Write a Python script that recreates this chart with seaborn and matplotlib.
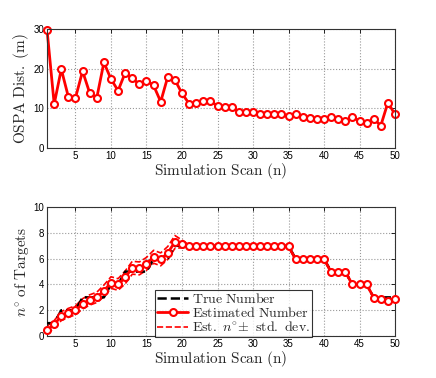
import numpy as np
import pandas as pd
import matplotlib
matplotlib.use("Agg")
import matplotlib.pyplot as plt
import seaborn as sns

scans = list(range(1, 51))
ospa = [29.7, 11.1, 19.9, 12.9, 12.7, 19.4, 13.9, 12.7, 21.6, 17.4,
        14.5, 19.0, 17.6, 16.1, 17.0, 15.8, 11.7, 18.0, 17.2, 13.8,
        11.2, 11.4, 11.9, 11.9, 10.6, 10.4, 10.4, 9.1, 9.1, 9.1,
        8.7, 8.5, 8.5, 8.5, 8.1, 8.5, 7.9, 7.7, 7.3, 7.3,
        7.9, 7.4, 6.8, 7.9, 6.8, 6.4, 7.4, 5.7, 11.5, 8.5]
est_num = [0.47, 0.9, 1.55, 1.8, 2.0, 2.5, 2.8, 3.0, 3.5, 4.15,
           4.0, 4.55, 5.3, 5.25, 5.6, 6.15, 5.95, 6.45, 7.3, 7.15,
           6.95, 6.95, 6.95, 6.95, 6.95, 6.95, 6.95, 6.95, 6.95, 6.95,
           6.95, 6.95, 6.95, 6.95, 6.95, 5.96, 5.96, 5.96, 5.96, 5.96,
           4.97, 4.97, 4.97, 4.0, 4.0, 4.0, 2.98, 2.9, 2.7, 2.9]
true_num = [1, 1, 2, 2, 2, 3, 3, 3, 3, 4,
            4, 5, 5, 5, 5, 6, 6, 6, 7, 7,
            7, 7, 7, 7, 7, 7, 7, 7, 7, 7,
            7, 7, 7, 7, 7, 6, 6, 6, 6, 6,
            5, 5, 5, 4, 4, 4, 3, 3, 3, 3]
std_num = [0.3, 0.3, 0.35, 0.35, 0.35, 0.4, 0.4, 0.4, 0.45, 0.45,
           0.45, 0.5, 0.5, 0.5, 0.5, 0.5, 0.5, 0.5, 0.5, 0.3,
           0.1, 0.05, 0.05, 0.05, 0.05, 0.05, 0.05, 0.05, 0.05, 0.05,
           0.05, 0.05, 0.05, 0.05, 0.05, 0.05, 0.05, 0.05, 0.05, 0.05,
           0.05, 0.05, 0.05, 0.05, 0.05, 0.05, 0.05, 0.05, 0.05, 0.05]
xticks = [5, 10, 15, 20, 25, 30, 35, 40, 45, 50]

sns.set_style("white")
plt.rcParams['font.family'] = ['Liberation Sans', 'DejaVu Sans']
plt.rcParams['mathtext.fontset'] = 'cm'

df = pd.DataFrame({"scan": scans, "ospa": ospa, "est": est_num,
                   "true": true_num,
                   "up": np.array(est_num) + np.array(std_num),
                   "lo": np.array(est_num) - np.array(std_num)})

fig = plt.figure(figsize=(4.36, 3.78), dpi=100)
ax1 = fig.add_axes([0.108, 0.608, 0.798, 0.315])
ax2 = fig.add_axes([0.108, 0.111, 0.798, 0.341])

red = '#ff0000'
mk = dict(marker='o', markersize=5, markeredgewidth=1.5,
          markerfacecolor='white', markeredgecolor=red, clip_on=False)

sns.lineplot(data=df, x="scan", y="ospa", ax=ax1, color=red, linewidth=2, **mk)

sns.lineplot(data=df, x="scan", y="true", ax=ax2, color='black', linewidth=1.8,
             linestyle='--', label=r'$\mathrm{True\ Number}$', zorder=3)
sns.lineplot(data=df, x="scan", y="est", ax=ax2, color=red, linewidth=2,
             label=r'$\mathrm{Estimated\ Number}$', zorder=4, **mk)
sns.lineplot(data=df, x="scan", y="up", ax=ax2, color=red, linewidth=1.2,
             linestyle='--', label=r'$\mathrm{Est.}\ n^{\circ}\!\pm\ \mathrm{std.\ dev.}$', zorder=2)
sns.lineplot(data=df, x="scan", y="lo", ax=ax2, color=red, linewidth=1.2,
             linestyle='--', zorder=2)

for ax in (ax1, ax2):
    ax.set_xlim(1, 50)
    ax.set_xticks(xticks)
    ax.grid(True, linestyle=':', color='#999999', linewidth=0.8)
    ax.tick_params(direction='in', length=3, labelsize=7, width=0.6,
                   top=True, right=True, pad=2, colors='black')
    for s in ax.spines.values():
        s.set_color('#333333')
        s.set_linewidth(0.8)
    ax.set_xlabel(r'$\mathrm{Simulation\ Scan\ (n)}$', fontsize=11, labelpad=0)

ax1.set_ylim(0, 30)
ax1.set_yticks([0, 10, 20, 30])
ax1.set_ylabel(r'$\mathrm{OSPA\ Dist.\ (m)}$', fontsize=11, labelpad=2)

ax2.set_ylim(0, 10)
ax2.set_yticks([0, 2, 4, 6, 8, 10])
ax2.set_ylabel(r'$n^{\circ}\ \mathrm{of\ Targets}$', fontsize=11, labelpad=2)

handles, labels = ax2.get_legend_handles_labels()
leg = ax2.legend(handles, labels, loc='lower left', bbox_to_anchor=(0.311, -0.01),
                 frameon=True, fancybox=False, edgecolor='black',
                 prop={'size': 10},
                 borderpad=0.15, labelspacing=0.05, handlelength=2.2,
                 handletextpad=0.3, borderaxespad=0)
leg.get_frame().set_linewidth(0.8)

fig.savefig("out.png", dpi=100, facecolor='white')
